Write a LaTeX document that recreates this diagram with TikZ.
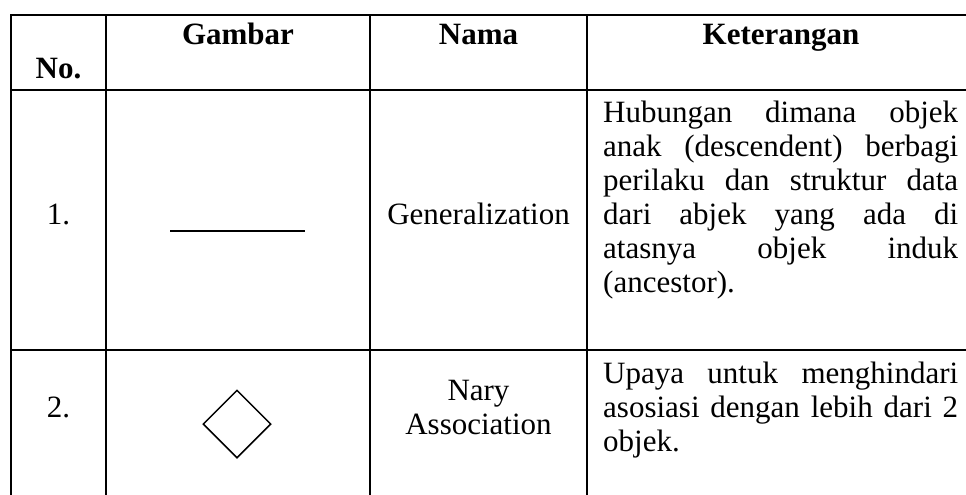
\documentclass[tikz,border=0pt]{standalone}
\usepackage{fontspec}
\setmainfont{Liberation Serif}
\usetikzlibrary{shapes.geometric}
\begin{document}
\begin{tikzpicture}[x=1pt,y=-1pt,
  rule/.style={line width=2pt},
  txt/.style={inner sep=0pt, anchor=base, font=\fontsize{31}{34}\selectfont},
  head/.style={txt, font=\fontsize{31}{34}\selectfont\bfseries},
  para/.style={txt, anchor=base west}]
\useasboundingbox (0,0) rectangle (966,495);
% table rules (the table runs on past the right and bottom edges)
\draw[rule] (11,520) -- (11,15) -- (990,15);
\draw[rule] (10,90) -- (990,90);
\draw[rule] (10,350) -- (990,350);
\foreach \x in {106,370,587} \draw[rule] (\x,15) -- (\x,520);
% header
\node[head] (hno)   at (58.5,78) {No.};
\node[head] (hgam)  at (238,45)  {Gambar};
\node[head] (hnama) at (478.5,45) {Nama};
\node[head] (hket)  at (781,45)  {Keterangan};
% row 1
\node[txt] (no1) at (58.5,224) {1.};
\coordinate (gl) at (170,231);
\coordinate (gr) at (305,231);
\draw[line width=1.4pt] (gl) -- (gr);
\node[txt] (nm1) at (478.5,224) {Generalization};
\node[para] (k1a) at (603,122) {\makebox[355pt][s]{Hubungan dimana objek}};
\node[para] (k1b) at (603,156) {\makebox[355pt][s]{anak (descendent) berbagi}};
\node[para] (k1c) at (603,190) {\makebox[355pt][s]{perilaku dan struktur data}};
\node[para] (k1d) at (603,224) {\makebox[355pt][s]{dari abjek yang ada di}};
\node[para] (k1e) at (603,258) {\makebox[355pt][s]{atasnya objek induk}};
\node[para] (k1f) at (603,292) {(ancestor).};
% row 2
\node[txt] (no2) at (58.5,417) {2.};
\node[draw, diamond, shape aspect=1, inner sep=0pt, minimum size=68pt,
      line width=1.5pt] (dia) at (237,424) {};
\node[txt] (nm2a) at (478.5,400) {Nary};
\node[txt] (nm2b) at (478.5,434) {Association};
\node[para] (k2a) at (603,383) {\makebox[355pt][s]{Upaya untuk menghindari}};
\node[para] (k2b) at (603,417) {\makebox[355pt][s]{asosiasi dengan lebih dari 2}};
\node[para] (k2c) at (603,451) {objek.};
\end{tikzpicture}
\end{document}
